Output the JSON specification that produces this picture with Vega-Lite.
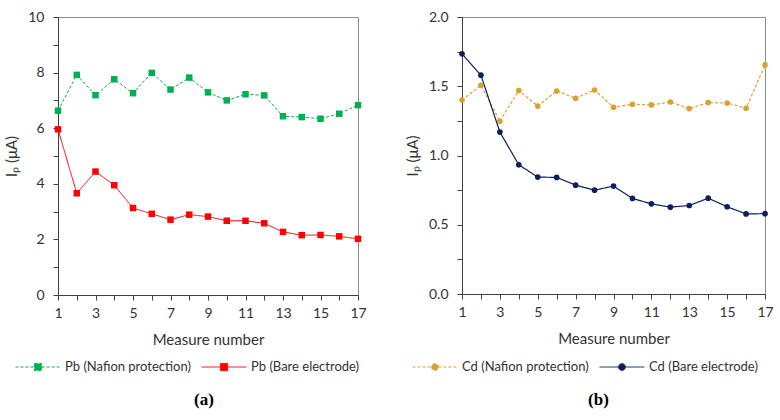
{
  "$schema": "https://vega.github.io/schema/vega-lite/v6.json",
  "padding": {"left": 4, "top": 9, "right": 0, "bottom": 0},
  "background": "white",
  "spacing": 37,
  "config": {
    "font": "Lato",
    "view": {"stroke": "#8c8c8c", "strokeWidth": 1},
    "axis": {"grid": false, "domainColor": "#404040", "tickColor": "#404040", "labelColor": "#333333", "titleColor": "#333333", "labelFont": "Lato", "titleFont": "Lato", "labelFontSize": 14, "titleFontSize": 15, "titleFontWeight": "normal", "tickSize": 5, "labelFlush": false, "labelOverlap": false},
    "legend": {"orient": "none", "direction": "horizontal", "title": null, "labelFont": "Lato", "labelFontSize": 13, "labelColor": "#333333", "symbolSize": 2025, "symbolStrokeWidth": 1, "columnPadding": 8, "labelOffset": 4},
    "title": {"font": "Liberation Serif", "fontSize": 17, "fontWeight": "bold", "color": "#000000"}
  },
  "resolve": {"scale": {"x": "independent", "y": "independent", "stroke": "independent", "fill": "independent", "strokeDash": "independent"}, "legend": {"stroke": "independent", "fill": "independent", "strokeDash": "independent"}},
  "hconcat": [
    {
      "width": 300,
      "height": 278,
      "title": {"text": "(a)", "orient": "bottom", "offset": 18, "dx": -4},
      "data": {"values": [
        {"n": 1, "s": "Pb (Nafion protection)", "v": 6.63},
        {"n": 2, "s": "Pb (Nafion protection)", "v": 7.92},
        {"n": 3, "s": "Pb (Nafion protection)", "v": 7.19},
        {"n": 4, "s": "Pb (Nafion protection)", "v": 7.76},
        {"n": 5, "s": "Pb (Nafion protection)", "v": 7.26},
        {"n": 6, "s": "Pb (Nafion protection)", "v": 7.99},
        {"n": 7, "s": "Pb (Nafion protection)", "v": 7.39},
        {"n": 8, "s": "Pb (Nafion protection)", "v": 7.82},
        {"n": 9, "s": "Pb (Nafion protection)", "v": 7.29},
        {"n": 10, "s": "Pb (Nafion protection)", "v": 7.0},
        {"n": 11, "s": "Pb (Nafion protection)", "v": 7.22},
        {"n": 12, "s": "Pb (Nafion protection)", "v": 7.18},
        {"n": 13, "s": "Pb (Nafion protection)", "v": 6.43},
        {"n": 14, "s": "Pb (Nafion protection)", "v": 6.4},
        {"n": 15, "s": "Pb (Nafion protection)", "v": 6.34},
        {"n": 16, "s": "Pb (Nafion protection)", "v": 6.52},
        {"n": 17, "s": "Pb (Nafion protection)", "v": 6.83},
        {"n": 1, "s": "Pb (Bare electrode)", "v": 5.96},
        {"n": 2, "s": "Pb (Bare electrode)", "v": 3.66},
        {"n": 3, "s": "Pb (Bare electrode)", "v": 4.44},
        {"n": 4, "s": "Pb (Bare electrode)", "v": 3.95},
        {"n": 5, "s": "Pb (Bare electrode)", "v": 3.13},
        {"n": 6, "s": "Pb (Bare electrode)", "v": 2.92},
        {"n": 7, "s": "Pb (Bare electrode)", "v": 2.71},
        {"n": 8, "s": "Pb (Bare electrode)", "v": 2.89},
        {"n": 9, "s": "Pb (Bare electrode)", "v": 2.82},
        {"n": 10, "s": "Pb (Bare electrode)", "v": 2.67},
        {"n": 11, "s": "Pb (Bare electrode)", "v": 2.67},
        {"n": 12, "s": "Pb (Bare electrode)", "v": 2.58},
        {"n": 13, "s": "Pb (Bare electrode)", "v": 2.27},
        {"n": 14, "s": "Pb (Bare electrode)", "v": 2.15},
        {"n": 15, "s": "Pb (Bare electrode)", "v": 2.16},
        {"n": 16, "s": "Pb (Bare electrode)", "v": 2.11},
        {"n": 17, "s": "Pb (Bare electrode)", "v": 2.02}
      ]},
      "encoding": {
        "x": {"field": "n", "type": "quantitative", "scale": {"domain": [1, 17], "nice": false, "zero": false},
          "axis": {"title": "Measure number", "values": [1,2,3,4,5,6,7,8,9,10,11,12,13,14,15,16,17], "labelExpr": "datum.value % 2 == 1 ? datum.label : ''", "labelPadding": 6, "titlePadding": 12}},
        "y": {"field": "v", "type": "quantitative", "scale": {"domain": [0, 10], "nice": false},
          "axis": {"title": "Iₚ (μA)", "values": [0,1,2,3,4,5,6,7,8,9,10], "labelExpr": "datum.value % 2 == 0 ? datum.label : ''", "labelPadding": 9, "titlePadding": 8}}
      },
      "layer": [
        {
          "mark": {"type": "line", "strokeWidth": 1},
          "encoding": {
            "stroke": {"field": "s", "type": "nominal", "scale": {"domain": ["Pb (Nafion protection)", "Pb (Bare electrode)"], "range": ["#00B050", "#FF0000"]},
              "legend": {"legendX": -43, "legendY": 327, "symbolType": "M-1,0H-0.16M0.16,0H1M-0.16,-0.16H0.16V0.16H-0.16Z"}},
            "strokeDash": {"field": "s", "type": "nominal", "scale": {"domain": ["Pb (Nafion protection)", "Pb (Bare electrode)"], "range": [[3, 2], [1, 0]]},
              "legend": {"legendX": -43, "legendY": 327, "symbolType": "M-1,0H-0.16M0.16,0H1M-0.16,-0.16H0.16V0.16H-0.16Z"}}
          }
        },
        {
          "mark": {"type": "point", "shape": "square", "filled": true, "size": 42, "opacity": 1},
          "encoding": {
            "fill": {"field": "s", "type": "nominal", "scale": {"domain": ["Pb (Nafion protection)", "Pb (Bare electrode)"], "range": ["#00B050", "#FF0000"]},
              "legend": {"legendX": -43, "legendY": 327, "symbolType": "M-1,0H-0.16M0.16,0H1M-0.16,-0.16H0.16V0.16H-0.16Z"}}
          }
        }
      ]
    },
    {
      "width": 303,
      "height": 277,
      "title": {"text": "(b)", "orient": "bottom", "offset": 18, "dx": -15},
      "data": {"values": [
        {"n": 1, "s": "Cd (Nafion protection)", "v": 1.40},
        {"n": 2, "s": "Cd (Nafion protection)", "v": 1.507},
        {"n": 3, "s": "Cd (Nafion protection)", "v": 1.247},
        {"n": 4, "s": "Cd (Nafion protection)", "v": 1.469},
        {"n": 5, "s": "Cd (Nafion protection)", "v": 1.357},
        {"n": 6, "s": "Cd (Nafion protection)", "v": 1.466},
        {"n": 7, "s": "Cd (Nafion protection)", "v": 1.413},
        {"n": 8, "s": "Cd (Nafion protection)", "v": 1.473},
        {"n": 9, "s": "Cd (Nafion protection)", "v": 1.348},
        {"n": 10, "s": "Cd (Nafion protection)", "v": 1.37},
        {"n": 11, "s": "Cd (Nafion protection)", "v": 1.365},
        {"n": 12, "s": "Cd (Nafion protection)", "v": 1.386},
        {"n": 13, "s": "Cd (Nafion protection)", "v": 1.339},
        {"n": 14, "s": "Cd (Nafion protection)", "v": 1.382},
        {"n": 15, "s": "Cd (Nafion protection)", "v": 1.379},
        {"n": 16, "s": "Cd (Nafion protection)", "v": 1.341},
        {"n": 17, "s": "Cd (Nafion protection)", "v": 1.654},
        {"n": 1, "s": "Cd (Bare electrode)", "v": 1.734},
        {"n": 2, "s": "Cd (Bare electrode)", "v": 1.58},
        {"n": 3, "s": "Cd (Bare electrode)", "v": 1.169},
        {"n": 4, "s": "Cd (Bare electrode)", "v": 0.933},
        {"n": 5, "s": "Cd (Bare electrode)", "v": 0.844},
        {"n": 6, "s": "Cd (Bare electrode)", "v": 0.842},
        {"n": 7, "s": "Cd (Bare electrode)", "v": 0.786},
        {"n": 8, "s": "Cd (Bare electrode)", "v": 0.75},
        {"n": 9, "s": "Cd (Bare electrode)", "v": 0.779},
        {"n": 10, "s": "Cd (Bare electrode)", "v": 0.69},
        {"n": 11, "s": "Cd (Bare electrode)", "v": 0.651},
        {"n": 12, "s": "Cd (Bare electrode)", "v": 0.627},
        {"n": 13, "s": "Cd (Bare electrode)", "v": 0.639},
        {"n": 14, "s": "Cd (Bare electrode)", "v": 0.692},
        {"n": 15, "s": "Cd (Bare electrode)", "v": 0.63},
        {"n": 16, "s": "Cd (Bare electrode)", "v": 0.578},
        {"n": 17, "s": "Cd (Bare electrode)", "v": 0.58}
      ]},
      "encoding": {
        "x": {"field": "n", "type": "quantitative", "scale": {"domain": [1, 17], "nice": false, "zero": false},
          "axis": {"title": "Measure number", "values": [1,2,3,4,5,6,7,8,9,10,11,12,13,14,15,16,17], "labelExpr": "datum.value % 2 == 1 ? datum.label : ''", "labelPadding": 6, "titlePadding": 12}},
        "y": {"field": "v", "type": "quantitative", "scale": {"domain": [0, 2], "nice": false},
          "axis": {"title": "Iₚ (μA)", "values": [0,0.25,0.5,0.75,1,1.25,1.5,1.75,2], "labelExpr": "(datum.value * 2) % 1 == 0 ? format(datum.value, '.1f') : ''", "labelPadding": 9, "titlePadding": 8}}
      },
      "layer": [
        {
          "mark": {"type": "line", "strokeWidth": 1.2},
          "encoding": {
            "stroke": {"field": "s", "type": "nominal", "scale": {"domain": ["Cd (Nafion protection)", "Cd (Bare electrode)"], "range": ["#D9A22E", "#0D1F5C"]},
              "legend": {"legendX": -50, "legendY": 327, "symbolType": "M-1,0H-0.15M0.15,0H1M-0.15,0A0.15,0.15,0,1,0,0.15,0A0.15,0.15,0,1,0,-0.15,0Z"}},
            "strokeDash": {"field": "s", "type": "nominal", "scale": {"domain": ["Cd (Nafion protection)", "Cd (Bare electrode)"], "range": [[3, 2], [1, 0]]},
              "legend": {"legendX": -50, "legendY": 327, "symbolType": "M-1,0H-0.15M0.15,0H1M-0.15,0A0.15,0.15,0,1,0,0.15,0A0.15,0.15,0,1,0,-0.15,0Z"}}
          }
        },
        {
          "mark": {"type": "point", "shape": "circle", "filled": true, "size": 32, "opacity": 1},
          "encoding": {
            "fill": {"field": "s", "type": "nominal", "scale": {"domain": ["Cd (Nafion protection)", "Cd (Bare electrode)"], "range": ["#D9A22E", "#0D1F5C"]},
              "legend": {"legendX": -50, "legendY": 327, "symbolType": "M-1,0H-0.15M0.15,0H1M-0.15,0A0.15,0.15,0,1,0,0.15,0A0.15,0.15,0,1,0,-0.15,0Z"}}
          }
        }
      ]
    }
  ]
}
